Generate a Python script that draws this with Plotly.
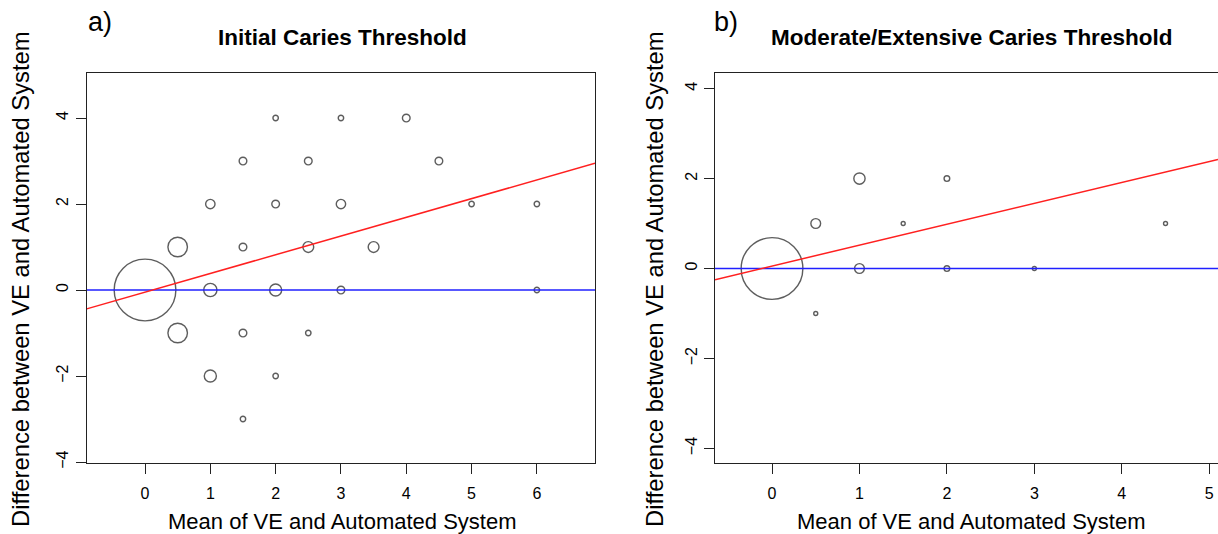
import numpy as np
import plotly.graph_objects as go

# ---------------- data ----------------
# Panel a) Initial caries threshold
a_mean = [0, 0.5, 0.5, 1, 1, 1, 1.5, 1.5, 1.5, 1.5, 2, 2, 2, 2, 2.5, 2.5, 2.5, 3, 3, 3, 3.5, 4, 4.5, 5, 6, 6]
a_diff = [0, 1, -1, 2, 0, -2, 3, 1, -1, -3, 4, 2, 0, -2, 3, 1, -1, 4, 2, 0, 1, 4, 3, 2, 2, 0]
a_count = [130, 13, 13, 3, 6, 5, 2, 2, 2, 1, 1, 2, 5, 1, 2, 4, 1, 1, 3, 2, 4, 2, 2, 1, 1, 1]
a_fit_intercept = -0.05
a_fit_slope = 0.435

# Panel b) Moderate/extensive caries threshold
b_mean = [0, 0.5, 0.5, 1, 1, 1.5, 2, 2, 3, 4.5]
b_diff = [0, 1, -1, 2, 0, 1, 2, 0, 0, 1]
b_count = [240, 6, 1, 8, 6, 1, 2, 2, 1, 1]
b_fit_intercept = 0.055
b_fit_slope = 0.465

ref_line = 0

x_ticks_a = [0, 1, 2, 3, 4, 5, 6]
x_ticks_b = [0, 1, 2, 3, 4, 5]
y_ticks = [-4, -2, 0, 2, 4]

panel_titles = ["Initial Caries Threshold", "Moderate/Extensive Caries Threshold"]
panel_letters = ["a)", "b)"]
x_title = "Mean of VE and Automated System"
y_title = "Difference between VE and Automated System"

# ---------------- layout constants ----------------
W, H = 1218, 534
FONT = "Liberation Sans, Arial, Helvetica, sans-serif"
MAX_D = 61.7  # px diameter of the largest circle

xr_a = [-0.893, 6.89]
yr_a = [-4.03, 5.04]
xr_b = [-0.652, 5.10]
yr_b = [-4.33, 4.34]

dom_y = [1 - 463.3 / H, 1 - 73.3 / H]
dom_xa = [86.7 / W, 595 / W]
dom_xb = [715 / W, 1.0]


def sizes(counts):
    c = np.asarray(counts, dtype=float)
    return (MAX_D * np.sqrt(c / c.max())).tolist()


fig = go.Figure()

for xs, ys, cs, xa, ya in [(a_mean, a_diff, a_count, "x", "y"),
                           (b_mean, b_diff, b_count, "x2", "y2")]:
    fig.add_trace(go.Scatter(
        x=xs, y=ys, mode="markers", xaxis=xa, yaxis=ya,
        marker=dict(symbol="circle", size=sizes(cs), color="rgba(0,0,0,0)",
                    line=dict(color="#1a1a1a", width=1.4)),
        showlegend=False, hoverinfo="x+y", cliponaxis=False))

for xr, b0, b1, xa, ya in [(xr_a, a_fit_intercept, a_fit_slope, "x", "y"),
                           (xr_b, b_fit_intercept, b_fit_slope, "x2", "y2")]:
    fig.add_trace(go.Scatter(
        x=xr, y=[ref_line, ref_line], mode="lines", xaxis=xa, yaxis=ya,
        line=dict(color="#2020FF", width=1.5), showlegend=False, hoverinfo="skip"))
    fx = np.array(xr)
    fig.add_trace(go.Scatter(
        x=fx.tolist(), y=(b0 + b1 * fx).tolist(), mode="lines", xaxis=xa, yaxis=ya,
        line=dict(color="#FF2020", width=1.5), showlegend=False, hoverinfo="skip"))

axis_common = dict(showline=True, linecolor="#222222", linewidth=1.3,
                   ticks="outside", ticklen=10, tickwidth=1.3, tickcolor="#222222",
                   showgrid=False, zeroline=False, automargin=False,
                   tickfont=dict(family=FONT, size=16, color="black"))

fig.update_layout(
    width=W, height=H,
    margin=dict(l=0, r=0, t=0, b=0),
    paper_bgcolor="white", plot_bgcolor="white",
    font=dict(family=FONT, color="black"),
    showlegend=False,
    xaxis=dict(domain=dom_xa, range=xr_a, tickvals=x_ticks_a, mirror=True,
               anchor="y", ticklabelstandoff=5, **axis_common),
    yaxis=dict(domain=dom_y, range=yr_a, tickvals=y_ticks, mirror=True,
               anchor="x", tickangle=-90, ticklabelstandoff=1, **axis_common),
    xaxis2=dict(domain=dom_xb, range=xr_b, tickvals=x_ticks_b, mirror=True,
                anchor="y2", ticklabelstandoff=5, **axis_common),
    yaxis2=dict(domain=dom_y, range=yr_b, tickvals=y_ticks, mirror=False,
                anchor="x2", tickangle=-90, ticklabelstandoff=0, **axis_common),
)

ann = []
for letter, title, lx, tx in [(panel_letters[0], panel_titles[0], 100, 342),
                              (panel_letters[1], panel_titles[1], 726, 971)]:
    ann.append(dict(text=letter, x=lx / W, y=1 - 22 / H, xref="paper", yref="paper",
                    xanchor="center", yanchor="middle", showarrow=False,
                    font=dict(family=FONT, size=27, color="black")))
    ann.append(dict(text="<b>" + title + "</b>", x=tx / W, y=1 - 38 / H,
                    xref="paper", yref="paper", xanchor="center", yanchor="middle",
                    showarrow=False, font=dict(family=FONT, size=22.5, color="black")))
    ann.append(dict(text=x_title, x=tx / W, y=1 - 521 / H, xref="paper", yref="paper",
                    xanchor="center", yanchor="middle", showarrow=False,
                    font=dict(family=FONT, size=22, color="black")))

for yx in [20, 654]:
    ann.append(dict(text=y_title, x=yx / W, y=1 - 279 / H, xref="paper", yref="paper",
                    xanchor="center", yanchor="middle", textangle=-90, showarrow=False,
                    font=dict(family=FONT, size=23.8, color="black")))

fig.update_layout(annotations=ann)

fig.write_html("out.html", config={"displayModeBar": False},
               post_script="document.body.style.margin='0';")
